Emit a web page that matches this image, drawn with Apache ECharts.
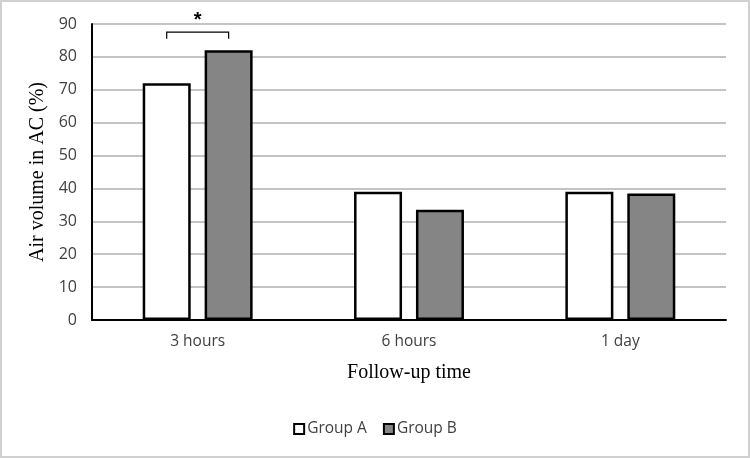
<!DOCTYPE html>
<html><head><meta charset="utf-8">
<script src="https://cdn.jsdelivr.net/npm/echarts@6/dist/echarts.min.js"></script>
<style>html,body{margin:0;padding:0;background:#fff}#c{width:750px;height:458px;box-sizing:border-box;border:2px solid #d0d0d0}</style>
</head><body><div id="c"></div>
<script>
const categories = ['3 hours', '6 hours', '1 day'];
const groupA = [72, 39, 39];
const groupB = [82, 33.5, 38.5];
const yTicks = { min: 0, max: 90, interval: 10 };
const sigBracket = [[0, 87.5, 85.5]]; // category index, bracket top value, tick end value

const chart = echarts.init(document.getElementById('c'));
const barW = 48, gapPct = '29%';
chart.setOption({
  animation: false,
  grid: { left: 90, right: 22, top: 22, bottom: 136 },
  legend: {
    bottom: 14, left: 'center', itemWidth: 10, itemHeight: 10, itemGap: 16,
    icon: 'rect',
    textStyle: { fontFamily: 'Open Sans', fontSize: 15.5, color: '#404040', padding: [0, 0, 0, -2] },
    data: ['Group A', 'Group B']
  },
  xAxis: {
    type: 'category', data: categories,
    name: 'Follow-up time', nameLocation: 'middle', nameGap: 43,
    nameTextStyle: { fontFamily: 'Liberation Serif', fontSize: 20, color: '#000' },
    axisLine: { lineStyle: { color: '#000', width: 2 } },
    axisTick: { show: false },
    axisLabel: { fontFamily: 'Open Sans', fontSize: 15.5, color: '#404040', margin: 14 }
  },
  yAxis: {
    type: 'value', min: yTicks.min, max: yTicks.max, interval: yTicks.interval,
    name: 'Air volume in AC (%)', nameLocation: 'middle', nameGap: 42,
    nameTextStyle: { fontFamily: 'Liberation Serif', fontSize: 20, color: '#000' },
    axisLine: { show: true, lineStyle: { color: '#000', width: 2 } },
    axisTick: { show: false },
    axisLabel: { fontFamily: 'Open Sans', fontSize: 16, color: '#404040', margin: 15 },
    splitLine: { lineStyle: { color: '#c4c4c4', width: 2 } }
  },
  series: [
    { name: 'Group A', type: 'bar', data: groupA, barWidth: barW, barGap: gapPct,
      itemStyle: { color: '#fff', borderColor: '#000', borderWidth: 2.5 } },
    { name: 'Group B', type: 'bar', data: groupB, barWidth: barW, barGap: gapPct,
      itemStyle: { color: '#858585', borderColor: '#000', borderWidth: 2.5 } },
    { name: 'sig', type: 'custom', data: sigBracket, clip: false, silent: true, z: 10,
      encode: { x: 0, y: 1 },
      renderItem: function (params, api) {
        const top = api.coord([api.value(0), api.value(1)]);
        const end = api.coord([api.value(0), api.value(2)]);
        const half = (barW * 1.29) / 2;
        const x1 = top[0] - half, x2 = top[0] + half;
        return { type: 'group', children: [
          { type: 'polyline', shape: { points: [[x1, end[1]], [x1, top[1]], [x2, top[1]], [x2, end[1]]] },
            style: { stroke: '#000', lineWidth: 1.2, fill: null } },
          { type: 'text', style: { text: '*', x: top[0], y: top[1] - 2, align: 'center', verticalAlign: 'bottom',
            font: 'bold 20px "Liberation Sans"', fill: '#000' } }
        ]};
      }
    }
  ]
});
</script></body></html>
